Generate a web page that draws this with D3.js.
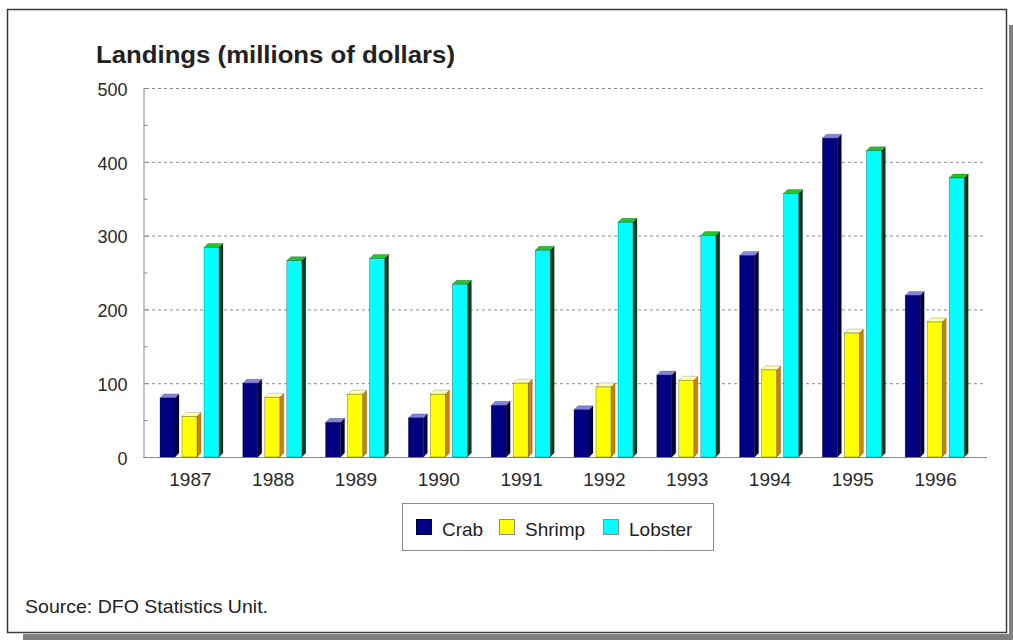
<!DOCTYPE html>
<html>
<head>
<meta charset="utf-8">
<script src="https://cdn.jsdelivr.net/npm/d3@7"></script>
<style>
    body { margin: 0; background: #fff; }
    svg { display: block; font-family: Arial, "Liberation Sans", sans-serif; }
    .grid line { stroke: #8c8c8c; stroke-dasharray: 3,3; }
    .axis path, .axis line { stroke: #8a8a8a; }
    .axis text { fill: #2a2a2a; }
</style>
</head>
<body>
<div id="chart"></div>
<script>

// values, millions of dollars
const years = ["1987", "1988", "1989", "1990", "1991", "1992", "1993", "1994", "1995", "1996"];
const crab = [80, 100, 47, 53, 70, 64, 111, 273, 432, 219];
const shrimp = [55, 81, 85, 85, 100, 95, 104, 118, 168, 183];
const lobster = [284, 266, 269, 234, 280, 318, 300, 357, 415, 378];
const seriesNames = ["Crab", "Shrimp", "Lobster"];
const yTicks = [0, 100, 200, 300, 400, 500];

const colors = {
    Crab: { front: "#000080", top: "#8484dc", side: "#00003c", swatch: "#000080" },
    Shrimp: { front: "#ffff00", top: "#ffffb4", side: "#c88400", swatch: "#ffff00" },
    Lobster: { front: "#00ffff", top: "#24c424", side: "#003c1c", swatch: "#00ffff" }
};

class barChart {

    constructor(opts) {
        this.element = opts.element;
        this.depth = 4;
        this.barWidth = 15;

        this._setData();
        this._setDimensions();
        this._setScales();
        this.draw();
    }

    _setData() {
        let values = { Crab: crab, Shrimp: shrimp, Lobster: lobster };
        this.rows = years.map((y, i) => {
            return {
                year: y,
                bars: seriesNames.map(k => ({ key: k, value: values[k][i] }))
            };
        });
    }

    _setDimensions() {
        this.width = 1013;
        this.height = 640;
        this.axisX = 143;
        this.baseY = 457;
        this.topY = 88;
        this.right = 985;
    }

    _setScales() {
        this.yScale = d3.scaleLinear()
            .domain([0, 500])
            .range([this.baseY, this.topY]);

        this.xScale = d3.scaleBand()
            .domain(years)
            .range([149, 977]);

        // 22px from bar to bar, 15px front face
        this.x1 = d3.scaleBand()
            .domain(seriesNames)
            .range([0, 59])
            .paddingInner(7 / 22);
    }

    draw() {
        this.element.innerHTML = "";

        this.svg = d3.select(this.element).append("svg")
            .attr("width", this.width)
            .attr("height", this.height);

        // frame with drop shadow
        this.svg.append("rect")
            .attr("x", 23).attr("y", 25)
            .attr("width", this.width - 23).attr("height", this.height - 25)
            .attr("fill", "#808080");
        this.svg.append("rect")
            .attr("x", 7).attr("y", 9)
            .attr("width", 1002).attr("height", 625)
            .attr("fill", "#fff");
        this.svg.append("rect")
            .attr("x", 7.5).attr("y", 9.5)
            .attr("width", 999).attr("height", 623)
            .attr("fill", "none")
            .attr("stroke", "#3a3a3a")
            .attr("stroke-width", 1.5);

        this.svg.append("text")
            .attr("x", 96)
            .attr("y", 63)
            .attr("font-size", 24)
            .attr("font-weight", "bold")
            .attr("fill", "#222")
            .attr("textLength", 359)
            .attr("lengthAdjust", "spacingAndGlyphs")
            .text("Landings (millions of dollars)");

        // dashed gridlines
        this.svg.append("g")
            .attr("class", "grid")
            .selectAll("line")
            .data(yTicks.filter(d => d > 0)).enter()
            .append("line")
            .attr("x1", this.axisX + 3)
            .attr("x2", this.right - 2)
            .attr("y1", d => this.yScale(d) + 0.5)
            .attr("y2", d => this.yScale(d) + 0.5);

        let yAxis = d3.axisLeft(this.yScale)
            .tickValues(yTicks)
            .tickSizeInner(-5)
            .tickSizeOuter(0)
            .tickPadding(16);

        let yMinor = d3.axisLeft(this.yScale)
            .tickValues([50, 150, 250, 350, 450])
            .tickSizeInner(-4)
            .tickSizeOuter(0)
            .tickFormat("");

        this.svg.append("g")
            .attr("class", "axis y-axis")
            .attr("transform", `translate(${this.axisX + 0.5},0)`)
            .call(yAxis)
            .call(g => g.selectAll("text").attr("font-size", 18).attr("dy", "0.4em"));

        this.svg.append("g")
            .attr("class", "axis y-minor")
            .attr("transform", `translate(${this.axisX + 0.5},0)`)
            .call(yMinor)
            .call(g => g.select(".domain").remove());

        let xAxis = d3.axisBottom(this.xScale)
            .tickSize(0)
            .tickPadding(15);

        this.svg.append("g")
            .attr("class", "axis x-axis")
            .attr("transform", `translate(0,${this.baseY + 0.5})`)
            .call(xAxis)
            .call(g => g.select(".domain").remove())
            .call(g => g.selectAll("text").attr("font-size", 19));

        this.svg.append("line")
            .attr("x1", this.axisX)
            .attr("x2", this.right + 2)
            .attr("y1", this.baseY + 0.5)
            .attr("y2", this.baseY + 0.5)
            .attr("stroke", "#8a8a8a");

        this.drawBars();
        this.drawLegend();

        this.svg.append("text")
            .attr("x", 25)
            .attr("y", 613)
            .attr("font-size", 19)
            .attr("fill", "#222")
            .attr("textLength", 243)
            .attr("lengthAdjust", "spacingAndGlyphs")
            .text("Source: DFO Statistics Unit.");
    }

    drawBars() {
        let d = this.depth, w = this.barWidth, base = this.baseY;

        let groups = this.svg.append("g").selectAll(".year")
            .data(this.rows).enter()
            .append("g")
            .attr("class", "year")
            .attr("transform", r => `translate(${this.xScale(r.year) + 11},0)`);

        let bar = groups.selectAll(".bar")
            .data(r => r.bars).enter()
            .append("g")
            .attr("class", "bar");

        bar.append("polygon")
            .attr("points", b => {
                let x = this.x1(b.key), y = this.yScale(b.value);
                return [[x + w, y], [x + w + d, y - d], [x + w + d, base - d], [x + w, base]].join(" ");
            })
            .attr("fill", b => colors[b.key].side)
            .attr("stroke", "rgba(0,0,0,0.4)")
            .attr("stroke-width", 0.5);

        bar.append("polygon")
            .attr("points", b => {
                let x = this.x1(b.key), y = this.yScale(b.value);
                return [[x, y], [x + d, y - d], [x + w + d, y - d], [x + w, y]].join(" ");
            })
            .attr("fill", b => colors[b.key].top)
            .attr("stroke", "rgba(0,0,0,0.4)")
            .attr("stroke-width", 0.5);

        bar.append("rect")
            .attr("x", b => this.x1(b.key))
            .attr("y", b => this.yScale(b.value))
            .attr("width", w)
            .attr("height", b => base - this.yScale(b.value))
            .attr("fill", b => colors[b.key].front)
            .attr("stroke", "rgba(0,0,0,0.45)")
            .attr("stroke-width", 0.6);
    }

    drawLegend() {
        let legend = this.svg.append("g").attr("class", "legend");

        legend.append("rect")
            .attr("x", 402.5).attr("y", 503.5)
            .attr("width", 311).attr("height", 47)
            .attr("fill", "#fff")
            .attr("stroke", "#8c8c8c");

        let items = legend.selectAll(".item")
            .data(seriesNames).enter()
            .append("g")
            .attr("class", "item");

        let xs = [416, 499, 603];

        items.append("rect")
            .attr("x", (k, i) => xs[i] + 0.5)
            .attr("y", 519.5)
            .attr("width", 15)
            .attr("height", 15)
            .attr("fill", k => colors[k].swatch)
            .attr("stroke", k => k === "Crab" ? "#000040" : "#8c8c8c");

        items.append("text")
            .attr("x", (k, i) => xs[i] + 26)
            .attr("y", 536)
            .attr("font-size", 19)
            .attr("fill", "#222")
            .text(k => k);
    }
}

new barChart({ element: document.getElementById("chart") });

</script>
</body>
</html>
